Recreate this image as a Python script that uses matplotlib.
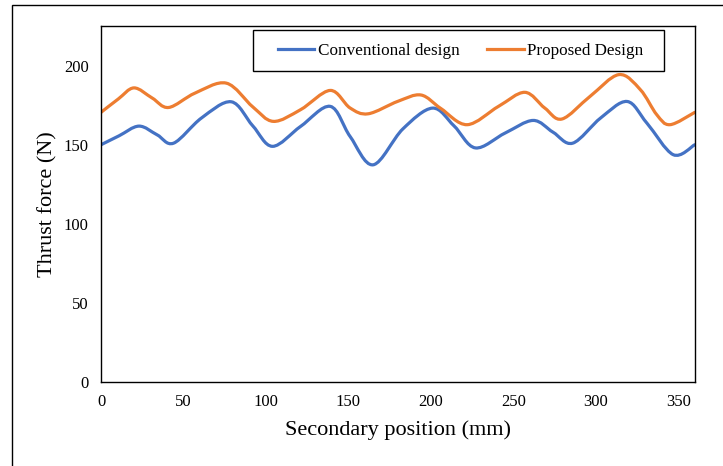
import matplotlib
matplotlib.use("Agg")
import matplotlib.pyplot as plt
from matplotlib.path import Path
from matplotlib.patches import PathPatch, Rectangle
from matplotlib.lines import Line2D

# values
conv_x = [0, 11, 23, 34, 44, 61, 79, 92, 104, 121, 139, 151, 165, 183,
          201, 214, 227, 245, 262, 274, 286, 303, 319, 331, 347, 360]
conv_y = [150, 155.7, 161.8, 156.3, 151, 167, 177.2, 162, 149, 161.6, 174.3,
          155.3, 137.3, 160, 173.2, 162, 148, 157.4, 165.4, 158, 151, 167,
          177.4, 163.7, 143.7, 150]

prop_x = [0, 10.5, 20, 31, 41, 57, 76, 92, 104.5, 121, 139, 151, 162, 180,
          194, 206, 222, 241, 257, 269, 279.5, 296.5, 314, 327, 337, 345, 360]
prop_y = [170.5, 179, 186, 179.6, 173.6, 182.7, 189, 174, 164.8, 172.2, 184.4,
          173.3, 169.6, 177.5, 181.5, 173, 162.7, 174.3, 183.2, 173.3, 166.3,
          180.6, 194.4, 184.9, 169, 162.7, 170.5]

labels = ["Conventional design", "Proposed Design"]
colors = ["#4472C4", "#ED7D31"]


def smooth_path(xs, ys):
    # Excel style smoothed line: cubic bezier segments through the points
    verts = [(xs[0], ys[0])]
    codes = [Path.MOVETO]
    n = len(xs)
    for i in range(n - 1):
        p0 = (xs[max(i - 1, 0)], ys[max(i - 1, 0)])
        p1 = (xs[i], ys[i])
        p2 = (xs[i + 1], ys[i + 1])
        p3 = (xs[min(i + 2, n - 1)], ys[min(i + 2, n - 1)])
        c1 = (p1[0] + (p2[0] - p0[0]) / 6, p1[1] + (p2[1] - p0[1]) / 6)
        c2 = (p2[0] - (p3[0] - p1[0]) / 6, p2[1] - (p3[1] - p1[1]) / 6)
        verts += [c1, c2, p2]
        codes += [Path.CURVE4] * 3
    return Path(verts, codes)


plt.rcParams["font.family"] = ["Liberation Serif", "DejaVu Serif"]

W, H = 723, 466
fig = plt.figure(figsize=(W / 100, H / 100), dpi=100)
ax = fig.add_axes([0.1397, 0.1809, 0.8212, 0.7627])

handles = []
for xs, ys, c, lab in zip([conv_x, prop_x], [conv_y, prop_y], colors, labels):
    ax.add_patch(PathPatch(smooth_path(xs, ys), facecolor="none", edgecolor=c,
                           linewidth=2.3, capstyle="round", joinstyle="round"))
    handles.append(Line2D([], [], color=c, linewidth=2.3, label=lab))

ax.set_xlim(0, 360)
ax.set_ylim(0, 225)
ax.set_xticks(range(0, 351, 50))
ax.set_yticks(range(0, 201, 50))
ax.tick_params(axis="both", length=0, labelsize=12, pad=9)
for s in ax.spines.values():
    s.set_color("black")
    s.set_linewidth(1.0)

ax.set_xlabel("Secondary position (mm)", fontsize=16, labelpad=7)
ax.set_ylabel("Thrust force (N)", fontsize=16, labelpad=4)

leg = ax.legend(handles=handles, loc="center", bbox_to_anchor=(0.637, 0.8916),
                bbox_transform=fig.transFigure, ncol=2, fontsize=12.3,
                frameon=False, handlelength=2.15,
                handletextpad=0.2, columnspacing=1.6)

# legend frame, as in the reference (wider than the entries)
fig.patches.append(Rectangle((253 / W, 1 - 71 / H), 411 / W, 41 / H,
                             transform=fig.transFigure, fill=False,
                             edgecolor="black", linewidth=1.0))

# outer chart border
fig.patches.append(Rectangle((12 / W, -0.1), 1.2, 0.1 + (H - 5) / H,
                             transform=fig.transFigure, fill=False,
                             edgecolor="black", linewidth=1.0))

fig.savefig("out.png", dpi=100)
